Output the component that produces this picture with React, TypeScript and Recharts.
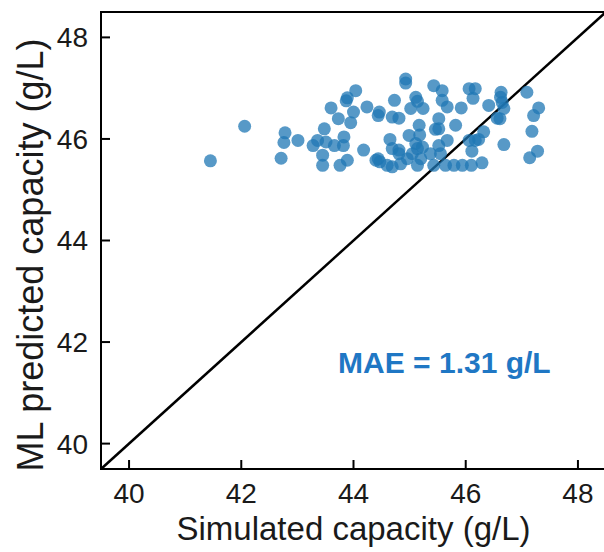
import React from 'react';
import {
  ScatterChart,
  Scatter,
  XAxis,
  YAxis,
  ReferenceLine,
  ReferenceArea,
  ReferenceDot,
  Label,
} from 'recharts';

// simulated vs ML predicted capacity (g/L)
const simulated = [
  41.45, 42.06, 42.78, 42.76, 43.01, 42.71, 43.28, 43.36, 43.48, 43.45, 43.45,
  44.93, 44.93, 44.04, 43.89, 43.87, 44.0, 43.6, 43.73, 43.95, 44.24,
  44.46, 44.44, 44.73, 44.69, 44.81, 45.11, 45.14, 45.02, 45.24, 45.43,
  45.58, 45.58, 45.67, 45.52, 45.52, 45.17, 45.18, 45.46,
  43.51, 43.66, 43.83, 43.82, 43.89, 43.76, 44.18, 44.44, 44.47, 44.4,
  44.69, 44.65, 44.81, 44.81, 44.84, 44.69, 44.6, 44.96, 45.05, 44.99,
  45.11, 45.14, 45.2, 45.23, 45.14, 45.37, 45.43, 45.55, 45.52, 45.67, 45.64,
  46.06, 46.17, 46.13, 46.63, 46.62, 46.65, 47.09, 45.92, 46.41, 46.68,
  47.3, 47.21, 47.18, 46.56, 46.61, 45.82, 46.32, 46.06, 46.17, 46.23,
  46.68, 46.11, 47.14, 47.28, 45.79, 45.94, 46.1, 46.29,
];

const predicted = [
  45.57, 46.25, 46.12, 45.93, 45.97, 45.62, 45.87, 45.97, 46.2, 45.68, 45.48,
  47.18, 47.1, 46.95, 46.81, 46.75, 46.53, 46.61, 46.4, 46.32, 46.63,
  46.53, 46.46, 46.76, 46.43, 46.41, 46.82, 46.74, 46.6, 46.6, 47.05,
  46.95, 46.76, 46.63, 46.4, 46.2, 46.27, 46.08, 46.19,
  45.94, 45.87, 46.04, 45.87, 45.58, 45.48, 45.78, 45.61, 45.55, 45.58,
  45.81, 45.99, 45.78, 45.71, 45.51, 45.45, 45.48, 45.61, 45.71, 46.07,
  45.91, 45.81, 45.61, 45.84, 45.48, 45.71, 45.48, 45.71, 45.87, 45.97, 45.48,
  46.99, 46.99, 46.8, 46.92, 46.82, 46.72, 46.92, 46.61, 46.66, 46.6,
  46.61, 46.46, 46.15, 46.41, 46.4, 46.27, 46.14, 45.97, 45.97, 45.99,
  45.89, 45.76, 45.63, 45.76, 45.48, 45.48, 45.48, 45.53,
];

const axisTicks = [40, 42, 44, 46, 48];
const axisDomain: [number, number] = [39.5, 48.5];
const maeLabel = 'MAE = 1.31 g/L';
const maeAt = { x: 45.62, y: 41.61 };

const FONT = '"Liberation Sans", Arial, Helvetica, sans-serif';

const data = simulated.map((s, i) => ({ sim: s, pred: predicted[i] }));

const YTitle = () => {
  const cx = 43;
  const cy = 255;
  return (
    <text
      x={cx}
      y={cy}
      transform={`rotate(-90, ${cx}, ${cy})`}
      textAnchor="middle"
      fontSize={36}
      fontFamily={FONT}
      fill="#1a1a1a"
    >
      ML predicted capacity (g/L)
    </text>
  );
};

const Dot = (props: any) => (
  <circle cx={props.cx} cy={props.cy} r={6.5} fill="#1f77b4" fillOpacity={0.75} />
);

const App: React.FC = () => {
  return (
    <div
      style={{
        position: 'absolute',
        left: 0,
        top: 0,
        width: 604,
        height: 552,
        overflow: 'hidden',
        background: '#fff',
        fontFamily: FONT,
      }}
    >
      <ScatterChart width={608} height={552} margin={{ top: 12, right: 2, bottom: 0, left: 0 }}>
        <XAxis
          type="number"
          dataKey="sim"
          domain={axisDomain}
          ticks={axisTicks}
          allowDataOverflow
          height={83}
          axisLine={{ stroke: '#000', strokeWidth: 2 }}
          tickLine={{ stroke: '#000', strokeWidth: 2 }}
          tickSize={-9}
          tickMargin={23}
          tick={{ fill: '#1a1a1a', fontSize: 28, fontFamily: FONT }}
        >
          <Label
            value="Simulated capacity (g/L)"
            position="insideBottom"
            offset={12}
            style={{ fontSize: 33, fill: '#1a1a1a', fontFamily: FONT }}
          />
        </XAxis>
        <YAxis
          type="number"
          dataKey="pred"
          domain={axisDomain}
          ticks={axisTicks}
          allowDataOverflow
          width={101}
          axisLine={{ stroke: '#000', strokeWidth: 2 }}
          tickLine={{ stroke: '#000', strokeWidth: 2 }}
          tickSize={-9}
          tickMargin={22}
          tick={{ fill: '#1a1a1a', fontSize: 28, fontFamily: FONT }}
        >
          <Label content={<YTitle />} />
        </YAxis>
        <ReferenceArea
          x1={axisDomain[0]}
          x2={axisDomain[1]}
          y1={axisDomain[0]}
          y2={axisDomain[1]}
          fill="none"
          stroke="#000"
          strokeWidth={2}
        />
        <Scatter data={data} shape={<Dot />} isAnimationActive={false} />
        <ReferenceLine
          segment={[
            { x: axisDomain[0], y: axisDomain[0] },
            { x: axisDomain[1], y: axisDomain[1] },
          ]}
          stroke="#000"
          strokeWidth={2.5}
        />
        <ReferenceDot
          x={maeAt.x}
          y={maeAt.y}
          r={0}
          fill="none"
          stroke="none"
          label={{
            value: maeLabel,
            position: 'center',
            fill: '#1f77c4',
            fontSize: 30,
            fontWeight: 'bold',
            fontFamily: FONT,
          }}
        />
      </ScatterChart>
    </div>
  );
};

export default App;
